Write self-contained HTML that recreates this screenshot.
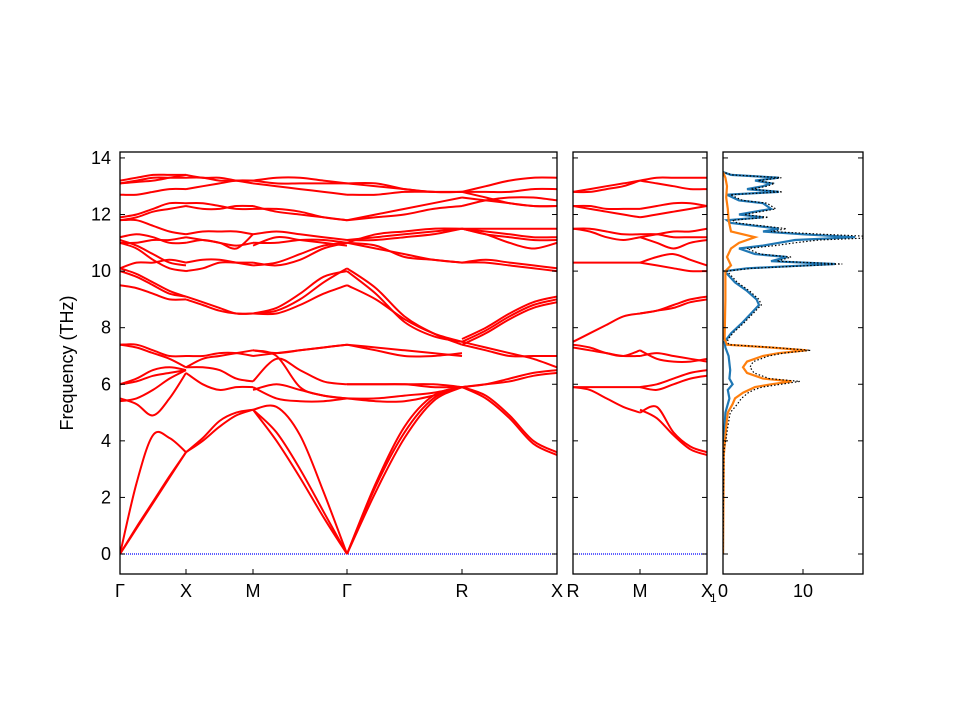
<!DOCTYPE html>
<html><head><meta charset="utf-8"><style>body{margin:0;background:#fff}svg text{font-family:"Liberation Sans","DejaVu Sans",sans-serif;font-size:18px;fill:#000}</style></head>
<body>
<svg id="s" width="960" height="720" xmlns="http://www.w3.org/2000/svg">
<defs>
<clipPath id="c1"><rect x="120" y="152" width="437" height="422"/></clipPath>
<clipPath id="c2"><rect x="573" y="152" width="134" height="422"/></clipPath>
<clipPath id="c3"><rect x="723" y="152" width="140" height="422"/></clipPath>
</defs>
<g id="g1" clip-path="url(#c1)"></g>
<g id="g2" clip-path="url(#c2)"></g>
<g id="g3" clip-path="url(#c3)"></g>
<g id="ax"></g>
</svg>
<script>
var NS="http://www.w3.org/2000/svg";
function Y(f){return 554-28.29*f;}
function el(p,t,a,txt){var e=document.createElementNS(NS,t);for(var k in a)e.setAttribute(k,a[k]);if(txt!=null)e.textContent=txt;p.appendChild(e);return e;}
function cr(pts){var d="M"+pts[0][0].toFixed(1)+","+pts[0][1].toFixed(1);for(var i=0;i<pts.length-1;i++){var p0=pts[i-1]||pts[i],p1=pts[i],p2=pts[i+1],p3=pts[i+2]||p2;var c1=[p1[0]+(p2[0]-p0[0])/6,p1[1]+(p2[1]-p0[1])/6],c2=[p2[0]-(p3[0]-p1[0])/6,p2[1]-(p3[1]-p1[1])/6];d+="C"+c1[0].toFixed(1)+","+c1[1].toFixed(1)+" "+c2[0].toFixed(1)+","+c2[1].toFixed(1)+" "+p2[0].toFixed(1)+","+p2[1].toFixed(1);}return d;}
function seg(g,x0,x1,bands){bands.forEach(function(b){var n=b.length,pts=b.map(function(f,i){return[x0+(x1-x0)*i/(n-1),Y(f)];});el(g,"path",{d:cr(pts),fill:"none",stroke:"#f00","stroke-width":2});});}
var g1=document.getElementById("g1"),g2=document.getElementById("g2"),g3=document.getElementById("g3"),ax=document.getElementById("ax");
el(g1,"line",{x1:120,x2:557,y1:554,y2:554,stroke:"#0000ff","stroke-width":1.2,"stroke-dasharray":"1,1"});
el(g2,"line",{x1:573,x2:707,y1:554,y2:554,stroke:"#0000ff","stroke-width":1.2,"stroke-dasharray":"1,1"});
seg(g1,120,186,[[0,2.5,4.2,4.1,3.6],[0,0.9,1.8,2.7,3.6],[0,0.95,1.85,2.75,3.6],[5.5,5.3,4.9,5.5,6.4],[5.4,5.5,5.8,6.2,6.5],[6.0,6.2,6.5,6.6,6.5],[6.0,6.1,6.3,6.4,6.5],[7.4,7.3,7.1,6.9,6.6],[7.4,7.4,7.2,7.0,7.0],[9.5,9.4,9.2,9.0,9.0],[10.0,9.8,9.5,9.2,9.1],[10.1,9.9,9.6,9.3,9.1],[10.1,10.3,10.3,10.4,10.3],[11.0,10.8,10.4,10.1,10.0],[11.1,10.9,10.6,10.3,10.2],[11.0,11.0,11.1,11.1,11.2],[11.2,11.3,11.2,11.0,11.0],[11.8,11.8,11.6,11.4,11.3],[11.9,12.0,12.2,12.4,12.4],[11.8,11.9,12.1,12.2,12.3],[12.7,12.7,12.8,12.9,12.9],[13.1,13.2,13.3,13.3,13.3],[13.1,13.15,13.2,13.3,13.4],[13.2,13.3,13.4,13.4,13.4]]);
seg(g1,186,253,[[3.6,4.0,4.5,4.9,5.1],[3.6,4.1,4.7,5.0,5.1],[6.4,6.0,5.8,5.9,5.9],[6.6,6.6,6.5,6.2,6.1],[6.6,6.9,7.0,7.1,7.2],[7.0,7.0,7.1,7.1,7.0],[9.0,8.8,8.6,8.5,8.5],[9.1,8.9,8.7,8.5,8.5],[10.0,10.1,10.3,10.3,10.3],[10.3,10.4,10.4,10.3,10.2],[11.0,11.1,11.0,10.9,11.0],[11.2,11.1,11.0,10.8,11.3],[11.3,11.4,11.4,11.4,11.3],[12.3,12.2,12.2,12.3,12.3],[12.4,12.4,12.3,12.2,12.2],[12.9,13.0,13.1,13.2,13.2],[13.3,13.3,13.2,13.2,13.2],[13.4,13.3,13.3,13.2,13.1]]);
seg(g1,253,347,[[5.1,4.0,2.7,1.3,0],[5.1,4.3,3.0,1.5,0],[5.1,5.2,4.2,2.2,0],[5.9,5.5,5.4,5.4,5.5],[5.8,6.0,5.8,5.6,5.5],[6.1,6.9,6.5,6.1,6.0],[7.2,7.0,5.9,5.6,5.5],[7.0,7.1,7.2,7.3,7.4],[7.2,7.1,7.2,7.3,7.4],[8.5,8.7,9.2,9.8,10.0],[8.5,8.6,9.0,9.6,10.1],[8.5,8.5,8.8,9.2,9.5],[10.3,10.2,10.4,10.8,11.0],[10.2,10.3,10.6,10.9,11.0],[11.0,11.0,11.1,11.1,11.0],[11.3,11.4,11.3,11.2,11.1],[10.9,11.2,11.1,11.0,10.9],[12.3,12.1,12.0,11.9,11.8],[12.2,12.2,12.1,11.9,11.8],[13.2,13.3,13.3,13.2,13.1],[13.2,13.1,13.1,13.1,13.1],[13.1,13.0,12.9,12.8,12.7]]);
seg(g1,347,462,[[0,2.5,4.5,5.6,5.9],[0,2.4,4.3,5.5,5.9],[0,2.2,4.1,5.4,5.9],[5.5,5.5,5.6,5.7,5.9],[5.5,5.4,5.4,5.6,5.9],[6.0,6.0,6.0,6.0,5.9],[6.0,6.0,6.0,5.9,5.9],[7.4,7.3,7.2,7.1,7.0],[7.4,7.2,7.0,7.0,7.1],[10.0,9.2,8.2,7.7,7.5],[10.1,9.4,8.4,7.8,7.4],[9.5,9.0,8.3,7.8,7.5],[11.0,10.8,10.6,10.4,10.3],[11.0,10.9,10.5,10.4,10.3],[11.1,11.1,11.2,11.3,11.5],[11.0,11.3,11.4,11.5,11.5],[11.1,11.2,11.3,11.4,11.5],[11.8,12.0,12.2,12.4,12.6],[11.8,11.9,12.0,12.2,12.3],[12.7,12.7,12.8,12.8,12.8],[13.1,13.0,12.9,12.8,12.8],[13.1,13.1,12.9,12.8,12.8]]);
seg(g1,462,557,[[5.9,5.6,4.9,4.0,3.6],[5.9,5.5,4.8,3.9,3.5],[5.9,6.0,6.2,6.4,6.5],[5.9,6.0,6.1,6.3,6.4],[7.4,7.2,7.0,7.0,7.0],[7.5,7.3,7.1,6.9,6.6],[7.5,7.9,8.4,8.8,9.0],[7.4,7.8,8.3,8.7,8.9],[7.6,8.0,8.5,8.9,9.1],[10.3,10.3,10.2,10.1,10.0],[10.3,10.4,10.3,10.2,10.1],[11.5,11.3,11.0,10.8,11.0],[11.5,11.3,11.2,11.1,11.1],[11.5,11.5,11.5,11.5,11.5],[11.5,11.4,11.3,11.2,11.2],[12.6,12.5,12.4,12.3,12.3],[12.3,12.5,12.6,12.6,12.5],[12.8,13.0,13.2,13.3,13.3],[12.8,12.8,12.8,12.9,12.9],[12.8,12.6,12.4,12.3,12.3]]);
seg(g2,573,640,[[5.9,5.8,5.5,5.2,5.0],[5.9,5.9,5.9,5.9,5.9],[7.4,7.3,7.1,7.0,7.2],[7.5,7.8,8.1,8.4,8.5],[7.3,7.2,7.1,7.0,7.0],[10.3,10.3,10.3,10.3,10.3],[11.5,11.4,11.2,11.1,11.2],[11.5,11.5,11.4,11.3,11.3],[12.3,12.3,12.2,12.2,12.2],[12.3,12.2,12.1,12.0,11.9],[12.8,12.9,13.0,13.1,13.2],[12.8,12.8,12.9,13.0,13.2]]);
seg(g2,640,707,[[5.0,5.2,4.3,3.8,3.6],[5.1,4.8,4.2,3.7,3.5],[5.9,6.0,6.2,6.4,6.5],[5.9,5.8,6.0,6.2,6.3],[7.2,6.9,6.8,6.8,6.9],[7.0,7.1,7.0,6.9,6.8],[8.5,8.6,8.8,9.0,9.1],[8.5,8.6,8.7,8.9,9.0],[10.3,10.2,10.1,10.0,10.0],[10.3,10.5,10.6,10.4,10.2],[11.2,11.0,10.8,11.0,11.1],[11.3,11.3,11.2,11.2,11.2],[11.2,11.3,11.4,11.4,11.5],[12.2,12.3,12.4,12.4,12.3],[11.9,12.0,12.1,12.2,12.3],[13.2,13.3,13.3,13.3,13.3],[13.2,13.1,13.0,12.9,12.9]]);
var blue=[[0,0],[3.8,0],[4,0.1],[5,0.3],[5.5,0.8],[5.8,0.6],[6.0,1.2],[6.2,0.8],[6.5,0.9],[7.0,0.7],[7.3,0.3],[7.5,0.2],[7.8,1.0],[8.2,2.5],[8.5,3.5],[8.8,4.5],[9.0,4.2],[9.3,3.0],[9.6,1.5],[10.0,0.2],[10.1,3],[10.25,14],[10.35,6],[10.5,8],[10.6,4],[10.8,2],[10.9,5],[11.0,7],[11.1,9],[11.2,16.5],[11.3,10],[11.4,5],[11.5,7],[11.6,4],[11.7,1],[11.8,0.5],[11.9,5],[12.0,2],[12.2,6],[12.4,5],[12.5,2],[12.7,0.5],[12.8,7],[12.9,3],[13.0,5],[13.1,6],[13.2,4],[13.3,7],[13.4,1],[13.5,0]];
var orng=[[0,0],[3.5,0.1],[4.5,0.4],[5.0,0.6],[5.3,1.2],[5.5,1.5],[5.7,2.5],[5.9,4],[6.0,6.0],[6.1,8.6],[6.2,5],[6.4,3],[6.6,2.5],[6.8,3],[7.0,5],[7.1,7],[7.2,10.5],[7.3,6],[7.4,0.5],[7.6,0.2],[9.0,0.3],[10.0,0.3],[10.2,1],[10.5,0.5],[10.8,1],[11.0,2],[11.2,4],[11.4,1],[11.8,0.7],[12.2,0.6],[12.6,0.4],[13.0,0.5],[13.3,0.3],[13.5,0]];
function interp(a,f){for(var i=0;i<a.length-1;i++){if(f>=a[i][0]&&f<=a[i+1][0]){var t=(f-a[i][0])/(a[i+1][0]-a[i][0]);return a[i][1]+t*(a[i+1][1]-a[i][1]);}}return 0;}
var fs={};blue.concat(orng).forEach(function(p){fs[p[0]]=1;});var fl=Object.keys(fs).map(Number).sort(function(a,b){return a-b;});
var tot=fl.map(function(f){return[f,interp(blue,f)+interp(orng,f)];});
function dpath(a){return "M"+a.map(function(p){return(723+8*p[1]).toFixed(1)+","+Y(p[0]).toFixed(1);}).join(" L");}
el(g3,"path",{d:dpath(blue),fill:"none",stroke:"#1f77b4","stroke-width":2.2});
el(g3,"path",{d:dpath(orng),fill:"none",stroke:"#ff7f0e","stroke-width":2.2});
el(g3,"path",{d:dpath(tot),fill:"none",stroke:"#000","stroke-width":1.2,"stroke-dasharray":"1.5,2"});
[[120,557],[573,707],[723,863]].forEach(function(p){el(ax,"rect",{x:p[0],y:152,width:p[1]-p[0],height:422,fill:"none",stroke:"#000","stroke-width":1.3});});
for(var f=0;f<=14;f+=2){var y=Y(f);
 [[120,557],[573,707],[723,863]].forEach(function(p){el(ax,"line",{x1:p[0],x2:p[0]+5,y1:y,y2:y,stroke:"#000"});el(ax,"line",{x1:p[1],x2:p[1]-5,y1:y,y2:y,stroke:"#000"});});
 el(ax,"text",{x:111,y:y+6,"text-anchor":"end"},String(f));}
[[120,"Γ"],[186,"X"],[253,"M"],[347,"Γ"],[462,"R"],[557,"X"],[573,"R"],[640,"M"],[707,"X"]].forEach(function(t){el(ax,"line",{x1:t[0],x2:t[0],y1:574,y2:569,stroke:"#000"});el(ax,"text",{x:t[0],y:597,"text-anchor":"middle"},t[1]);});
el(ax,"text",{x:710,y:602,style:"font-size:12px"},"1");
[[723,"0"],[803,"10"]].forEach(function(t){el(ax,"line",{x1:t[0],x2:t[0],y1:574,y2:569,stroke:"#000"});el(ax,"text",{x:t[0],y:597,"text-anchor":"middle"},t[1]);});
el(ax,"text",{x:73,y:363,"text-anchor":"middle",transform:"rotate(-90 73 363)"},"Frequency (THz)");
</script>
</body></html>
